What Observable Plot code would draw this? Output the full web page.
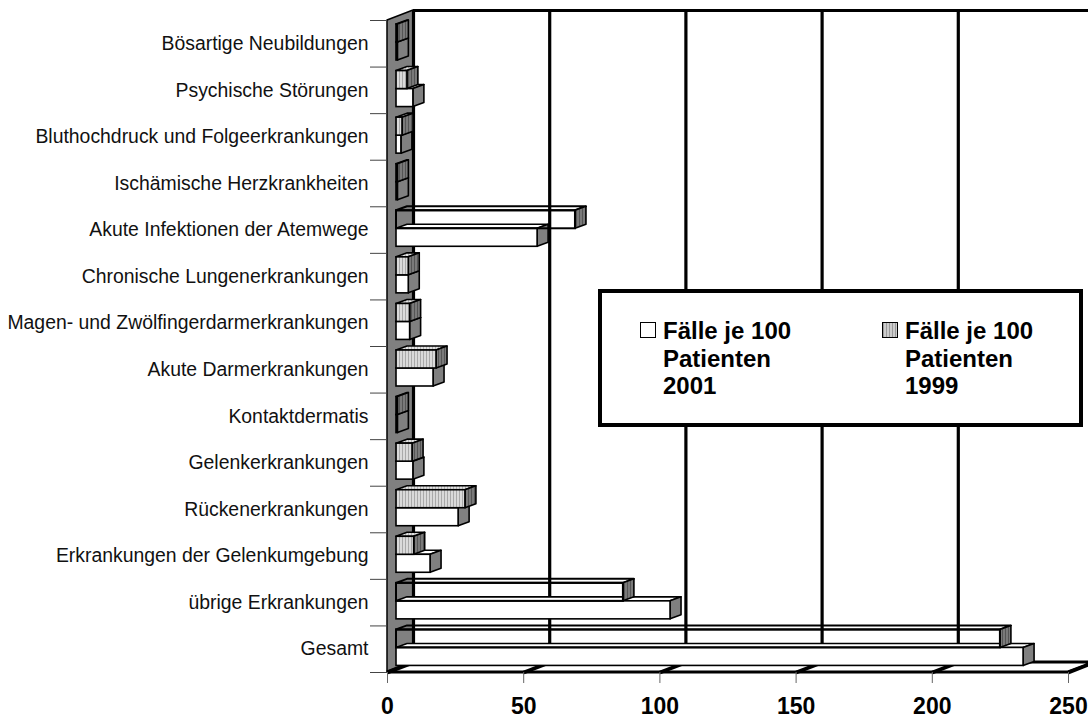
<!DOCTYPE html>
<html>
<head>
<meta charset="utf-8">
<script src="https://cdn.jsdelivr.net/npm/d3@7"></script>
<script src="https://cdn.jsdelivr.net/npm/@observablehq/plot@0.6"></script>
<style>
  html, body { margin: 0; padding: 0; background: white; }
  #wrap { position: relative; width: 1088px; height: 718px; overflow: hidden; font-family: "Liberation Sans", Arial, sans-serif; }
  #legend { position: absolute; left: 598px; top: 289px; width: 477px; height: 130px; border: 4px solid black; background: white; }
  .item { position: absolute; top: 24px; font-weight: bold; font-size: 24px; line-height: 27.5px; color: black; }
  .sw { position: absolute; top: 5px; width: 14px; height: 14px; border: 1.5px solid black; }
  .txt { position: absolute; left: 23px; top: 0; white-space: nowrap; }
</style>
</head>
<body>
<div id="wrap"></div>
<script>
// ---------- data ----------
const categories = [
  "Bösartige Neubildungen",
  "Psychische Störungen",
  "Bluthochdruck und Folgeerkrankungen",
  "Ischämische Herzkrankheiten",
  "Akute Infektionen der Atemwege",
  "Chronische Lungenerkrankungen",
  "Magen- und Zwölfingerdarmerkrankungen",
  "Akute Darmerkrankungen",
  "Kontaktdermatis",
  "Gelenkerkrankungen",
  "Rückenerkrankungen",
  "Erkrankungen der Gelenkumgebung",
  "übrige Erkrankungen",
  "Gesamt"
];
const values1999 = [0.5, 4.0, 2.2, 0.5, 65.7, 4.5, 5.0, 14.7, 0.5, 5.9, 25.3, 6.5, 83.3, 221.7];
const values2001 = [0.5, 6.2, 1.8, 0.5, 51.8, 4.5, 5.0, 13.6, 0.5, 6.2, 22.8, 12.5, 100.6, 230.2];
const xTicks = [0, 50, 100, 150, 200, 250];
const legendLines2001 = ["Fälle je 100", "Patienten", "2001"];
const legendLines1999 = ["Fälle je 100", "Patienten", "1999"];

// ---------- geometry (pixel styling converted to data units) ----------
const X0 = 387, X1 = 1068, Y0 = 20, Y1 = 672;
const n = categories.length;
const kx = (X1 - X0) / 250;          // px per value unit
const ky = (Y1 - Y0) / n;            // px per category unit
const barDx = 9;                      // bar front-face offset (px)
const bex = 11 / kx, bey = 4 / ky;    // bar depth
const wex = 26 / kx, wey = 10 / ky;   // wall depth
const rows = {"1999": [4 / ky, 22 / ky], "2001": [22 / ky, 40 / ky]};

function makeBars(series, vals) {
  return vals.map((v, i) => ({
    id: series + "-" + i, series, i, v, x0: 0,
    y1: i + rows[series][0], y2: i + rows[series][1]
  }));
}
const bars01 = makeBars("2001", values2001);
const bars99 = makeBars("1999", values1999);

const topPts = bs => bs.flatMap(b => [
  {id: b.id, y: b.y1, x1: 0, x2: b.v},
  {id: b.id, y: b.y1 - bey, x1: bex, x2: b.v + bex}
]);
const sidePts = bs => bs.flatMap(b => [
  {id: b.id, x: b.v, y1: b.y1, y2: b.y2},
  {id: b.id, x: b.v + bex, y1: b.y1 - bey, y2: b.y2 - bey}
]);

const bars99solid = bars99.filter(b => b.v <= 40);
const bars99clear = bars99.filter(b => b.v > 40);

const sw = 1.6;
const chart = Plot.plot({
  width: 1088, height: 718,
  marginLeft: X0, marginRight: 1088 - X1, marginTop: Y0, marginBottom: 718 - Y1,
  x: {domain: [0, 250], range: [X0, X1], axis: null},
  y: {domain: [0, n], range: [Y0, Y1], axis: null},
  style: {fontFamily: "'Liberation Sans', Arial, sans-serif", background: "white", color: "black"},
  marks: [
    // left wall
    Plot.areaY([{x: 0, y1: 0, y2: n}, {x: wex, y1: -wey, y2: n - wey}],
      {x: "x", y1: "y1", y2: "y2", fill: "#808080", stroke: "black", strokeWidth: 1.5}),
    // back wall gridlines and top frame
    Plot.ruleX(xTicks, {x: d => d, y1: () => 0, y2: () => n, dx: 26, dy: -10, stroke: "black", strokeWidth: 3.2}),
    Plot.ruleY([0], {y: d => d, x1: () => 0, x2: () => 250, dx: 26, dy: -10, stroke: "black", strokeWidth: 3.2}),
    // floor
    Plot.areaX([{y: n, x1: 0, x2: 250}, {y: n - wey, x1: wex, x2: 250 + wex}],
      {y: "y", x1: "x1", x2: "x2", fill: "white", stroke: "black", strokeWidth: 3, strokeLinejoin: "miter"}),
    Plot.link(xTicks, {x1: d => d, y1: () => n, x2: d => d + wex, y2: () => n - wey, stroke: "black", strokeWidth: 3.5}),
    // 2001 bars
    Plot.areaX(topPts(bars01), {y: "y", x1: "x1", x2: "x2", z: "id", dx: barDx, fill: "white", stroke: "black", strokeWidth: sw}),
    Plot.areaY(sidePts(bars01), {x: "x", y1: "y1", y2: "y2", z: "id", dx: barDx, fill: "#808080", stroke: "black", strokeWidth: sw}),
    Plot.rect(bars01, {x1: "x0", x2: "v", y1: "y1", y2: "y2", dx: barDx, fill: "white", stroke: "black", strokeWidth: sw}),
    // 1999 bars
    Plot.areaX(topPts(bars99solid), {y: "y", x1: "x1", x2: "x2", z: "id", dx: barDx, fill: "url(#p99top)", stroke: "black", strokeWidth: sw}),
    Plot.areaX(topPts(bars99clear), {y: "y", x1: "x1", x2: "x2", z: "id", dx: barDx, fill: "none", stroke: "black", strokeWidth: 2}),
    Plot.areaY(sidePts(bars99), {x: "x", y1: "y1", y2: "y2", z: "id", dx: barDx, fill: "url(#p99side)", stroke: "black", strokeWidth: sw}),
    Plot.rect(bars99solid, {x1: "x0", x2: "v", y1: "y1", y2: "y2", dx: barDx, fill: "url(#p99front)", stroke: "black", strokeWidth: sw}),
    Plot.rect(bars99clear, {x1: "x0", x2: "v", y1: "y1", y2: "y2", dx: barDx, fill: "none", stroke: "black", strokeWidth: 2}),
    // y axis: boundary ticks and category labels
    Plot.axisY({ticks: d3.range(0, n + 1), tickSize: 17, tickFormat: () => "", stroke: "#444"}),
    Plot.axisY({ticks: d3.range(0, n).map(i => i + 0.5), tickSize: 0, tickPadding: 19,
      tickFormat: d => categories[Math.floor(d)], fontSize: 19.4, fill: "#111"}),
    // x axis
    Plot.axisX({ticks: xTicks, tickSize: 11, tickPadding: 14.5, stroke: "#666",
      tickFormat: d => String(d), fontSize: 23, fontWeight: "bold", fill: "black"})
  ]
});

chart.insertAdjacentHTML("afterbegin", `
<defs>
  <pattern id="p99front" width="3" height="6" patternUnits="userSpaceOnUse">
    <rect width="3" height="6" fill="#dadada"/><rect width="1" height="6" fill="#a9a9a9"/>
  </pattern>
  <pattern id="p99top" width="3" height="6" patternUnits="userSpaceOnUse">
    <rect width="3" height="6" fill="#e2e2e2"/><rect width="1" height="6" fill="#b4b4b4"/>
  </pattern>
  <pattern id="p99side" width="3" height="6" patternUnits="userSpaceOnUse">
    <rect width="3" height="6" fill="#7a7a7a"/><rect width="1" height="6" fill="#555555"/>
  </pattern>
</defs>`);

const wrap = document.getElementById("wrap");
wrap.appendChild(chart);

// legend
const legend = document.createElement("div");
legend.id = "legend";
const items = [
  {left: 38, lines: legendLines2001, bg: "white"},
  {left: 280, lines: legendLines1999, bg: "repeating-linear-gradient(90deg, #9a9a9a 0 1px, #cccccc 1px 3px)"}
];
for (const it of items) {
  const d = document.createElement("div");
  d.className = "item";
  d.style.left = it.left + "px";
  const s = document.createElement("div");
  s.className = "sw";
  s.style.background = it.bg;
  const t = document.createElement("div");
  t.className = "txt";
  t.innerHTML = it.lines.join("<br>");
  d.appendChild(s); d.appendChild(t);
  legend.appendChild(d);
}
wrap.appendChild(legend);
</script>
</body>
</html>
